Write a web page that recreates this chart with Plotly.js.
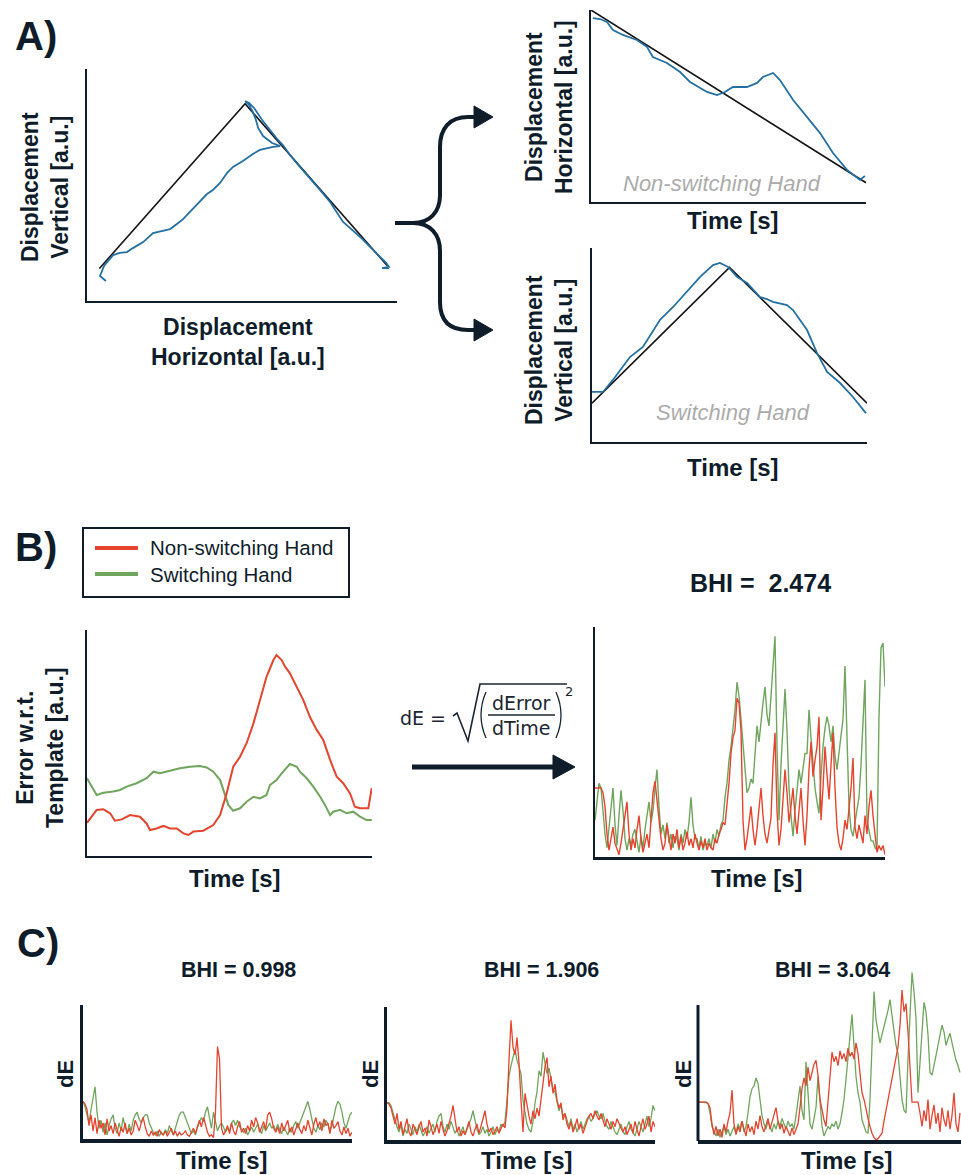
<!DOCTYPE html>
<html>
<head>
<meta charset="utf-8">
<script src="https://cdn.plot.ly/plotly-3.0.1.min.js"></script>
<style>html,body{margin:0;padding:0;background:#fff;}#chart{width:961px;height:1175px;}</style>
</head>
<body>
<div id="chart"></div>
<script>
// ---------- DATA ----------
// Panel A, main: 2D trajectory (horizontal vs vertical displacement)
const aTplX = [4, 51, 97];
const aTplY = [14, 85, 15];
const aTrajX = [6.1,4.2,5.5,7.4,8.4,10.6,12.9,14.8,18.1,21.3,24.5,26.8,29.0,31.0,33.2,36.5,38.7,40.6,42.9,45.2,47.1,50.3,53.5,55.8,58.1,60.0,62.3,59.7,56.8,55.2,54.5,53.5,52.3,51.0,52.3,53.9,56.5,59.0,61.6,63.2,65.5,68.7,71.9,75.2,78.4,80.6,82.6,84.8,88.1,91.3,94.5,96.5,97.4,95.2,97.4];
const aTrajY = [8.6,10.8,15.1,18.5,19.8,20.7,21.1,22.8,25.4,29.3,30.2,31.0,33.2,35.3,38.4,43.1,46.1,47.8,50.9,55.2,57.8,60.3,63.4,65.1,65.9,66.4,66.8,68.1,71.1,74.6,78.0,81.5,84.5,86.2,85.3,83.2,78.0,73.7,69.4,67.2,62.9,57.8,53.0,47.8,42.7,38.4,34.1,31.5,27.6,23.3,19.0,16.4,14.7,14.2,14.2];
// Panel A, non-switching hand: horizontal displacement vs time
const nsTplT = [0, 100];
const nsTplY = [100, 10];
const nsT = [0.7,3.3,5.8,8.0,11.6,16.7,20.4,22.5,27.6,32.4,36.0,42.2,45.8,48.7,51.6,56.7,60.4,62.5,66.2,68.7,73.5,78.5,83.3,88.0,93.1,97.8,99.6];
const nsY = [95.8,95.3,93.8,89.6,87.0,84.4,80.7,75.5,72.4,67.7,62.5,57.3,55.7,57.3,59.9,59.9,62.0,65.1,67.2,63.5,53.1,44.3,35.9,25.5,16.7,11.5,13.5];
// Panel A, switching hand: vertical displacement vs time
const swTplT = [0, 50, 100];
const swTplY = [20, 90, 20];
const swT = [0,4.0,7.6,13.8,18.5,24.7,29.5,34.5,39.3,44.0,46.5,49.5,52.7,56.4,61.1,63.6,65.8,70.9,73.1,78.2,81.8,85.5,90.2,94.9,99.6];
const swY = [25.8,25.8,32.0,43.8,49.0,62.9,69.6,77.3,85.1,91.2,92.3,90.2,85.1,82.0,74.7,73.7,72.2,70.6,68.0,57.7,45.9,36.1,30.4,23.2,14.9];
// Panel B, error w.r.t. template
const errRedT = [0,3.4,5.7,8.1,9.8,12.2,15.1,18.6,20.9,22.1,24.4,26.8,29.1,31.5,33.8,35.6,37.3,40.8,44.3,46.7,49.0,51.3,53.7,56.0,58.4,60.7,63.0,65.4,66.5,68.3,69.5,71.2,73.6,75.9,78.2,80.6,82.9,85.3,87.6,89.9,92.3,94.0,95.8,98.7,99.9];
const errRedY = [14.7,20.4,20.7,18.9,15.6,16.2,18.1,17.4,14.4,11.5,12.2,13.3,12.2,12.2,10.0,9.3,10.8,11.2,13.7,18.1,27.7,39.5,43.9,49.9,58.7,69.0,79.3,86.7,88.9,86.7,83.8,80.8,74.9,69.0,61.6,55.8,51.3,42.5,35.1,32.2,27.7,21.8,21.1,21.1,30.0];
const errGreenT = [0,3.4,5.7,9.2,11.6,13.9,17.4,20.9,23.3,25.6,29.1,32.6,36.1,39.6,42.0,44.3,46.7,48.4,49.6,51.3,53.7,56.0,58.4,60.7,63.0,64.2,66.5,68.3,71.2,73.6,74.7,77.1,79.4,81.8,83.5,85.3,86.4,88.8,91.1,93.4,95.8,98.1,99.9];
const errGreenY = [34.4,27.0,28.0,28.5,29.2,30.7,32.2,34.4,37.3,36.6,37.7,38.8,39.5,39.8,39.2,37.3,33.6,27.7,22.6,20.0,21.1,24.0,26.2,25.5,27.0,31.4,33.6,36.6,40.7,39.5,37.3,34.4,30.7,26.2,22.6,18.1,19.6,20.4,18.9,19.6,17.4,15.9,15.9];
// Panel B, dE (BHI = 2.474)
const dERed = [30,30,30,30,28,22,10,3,8,13,6,3,1,6,12,18,24,10,3,8,4,12,18,8,2,6,10,4,18,28,33,24,16,8,3,6,14,8,3,10,6,12,4,9,3,6,11,5,8,4,10,6,3,7,4,8,3,6,4,3,8,6,10,12,15,14,22,32,45,52,55,69,67,55,16,3,8,15,22,12,5,12,20,30,18,10,6,12,17,40,54,20,5,12,26,38,28,15,22,30,18,10,20,30,16,5,18,38,50,35,42,48,61,16,30,48,36,25,40,54,30,13,6,3,8,16,12,20,30,43,13,8,14,10,6,18,10,22,29,18,10,2,5,3,5,1];
const dEGreen = [16,24,32,30,20,10,4,12,22,30,14,5,18,29,20,8,3,8,5,10,12,6,2,9,4,12,18,24,15,20,30,38,22,10,14,8,15,6,10,4,9,8,3,10,6,12,8,15,26,14,8,8,4,9,3,6,5,8,4,10,6,12,9,14,16,26,32,42,48,55,64,76,70,60,48,36,28,30,34,32,45,57,50,60,67,74,62,57,70,85,96,48,16,40,60,73,55,30,18,9,20,30,38,32,40,45,45,64,52,42,30,24,19,35,48,56,61,57,50,57,44,38,46,55,60,83,50,22,12,9,15,20,26,40,60,77,16,12,7,7,4,3,61,91,93,74];
// Panel C, dE examples
const bhiLabels = ["BHI = 0.998", "BHI = 1.906", "BHI = 3.064"];
const c1Red = [28,26,22,10,18,6,16,4,14,8,12,3,15,6,10,4,12,7,2,9,5,12,4,8,3,6,14,10,6,12,16,9,4,2,6,3,5,2,7,4,3,6,2,5,8,3,6,2,5,3,4,6,3,2,5,8,4,10,14,9,16,11,5,2,3,1,20,69,60,8,3,6,10,4,12,6,3,9,13,5,8,4,10,6,14,9,16,12,5,9,13,7,18,20,15,8,5,9,4,12,6,10,14,5,9,3,8,12,7,4,10,6,14,8,3,11,16,9,13,6,15,10,12,4,14,8,10,13,6,3,9,4,8,2,5];
const c1Green = [28,24,18,12,22,30,39,20,8,14,5,12,3,10,15,18,8,4,12,6,16,9,4,11,6,14,18,20,15,12,16,18,18,12,8,5,3,6,2,5,3,7,4,10,6,3,8,14,18,20,20,16,12,8,4,6,3,9,12,16,13,20,24,15,8,20,14,6,10,12,9,5,8,6,12,14,10,14,9,7,5,8,3,6,9,5,8,11,7,4,10,6,9,12,8,10,6,11,7,4,9,6,3,8,5,10,13,8,12,15,20,24,28,22,14,8,5,10,7,12,9,14,11,6,10,18,24,28,26,20,12,8,14,18,20];
const c2Red = [28,27,24,18,12,20,8,14,4,10,16,6,3,12,8,4,10,14,6,9,3,15,10,4,8,12,5,14,8,3,7,12,18,26,15,6,10,3,7,4,9,14,6,3,8,12,5,10,16,22,12,6,9,4,7,10,5,8,12,9,24,60,90,70,64,77,58,30,6,35,25,18,12,22,16,24,18,30,40,55,62,40,48,35,42,30,24,28,15,20,12,8,14,6,10,16,8,12,5,10,14,18,20,16,22,18,15,20,14,10,16,12,8,14,10,16,12,9,6,10,4,8,12,5,14,8,3,10,16,8,12,18,6,14,10];
const c2Green = [28,28,26,20,14,10,6,12,3,8,5,12,8,4,10,6,12,8,3,6,10,5,8,12,6,14,18,20,10,6,12,8,14,10,5,8,3,6,10,4,8,12,16,22,14,8,4,6,10,5,8,3,6,10,4,8,6,12,10,14,30,48,56,62,68,60,55,50,30,20,12,8,6,14,28,36,52,48,66,58,50,54,45,38,36,30,22,26,18,20,14,10,16,8,12,6,10,14,8,12,16,18,14,16,20,22,18,16,20,14,10,8,14,10,6,4,8,12,6,4,10,14,8,5,3,8,14,10,6,12,18,10,16,26,22];
const c3Red = [28,28,28,28,28,27,24,12,4,10,3,8,2,12,6,14,20,37,12,4,10,6,14,8,3,12,6,10,4,14,8,18,10,6,12,16,8,14,20,24,14,8,12,5,10,6,3,9,4,8,12,24,38,46,40,54,44,50,56,59,48,30,22,15,10,28,48,65,58,62,55,66,60,64,58,68,62,65,60,72,64,48,35,30,22,16,10,5,2,0,1,3,5,14,22,30,39,44,52,62,69,85,111,95,101,80,50,28,28,28,28,20,10,22,14,30,8,18,26,12,20,6,24,15,10,22,8,18,35,12,6,20];
const c3Green = [28,28,28,28,28,27,20,10,6,3,8,2,6,10,4,8,3,6,10,5,12,8,14,6,10,20,32,38,40,46,42,30,18,12,8,14,10,6,12,8,14,10,16,12,8,14,10,12,8,18,30,40,22,15,58,30,12,8,16,24,47,30,10,3,6,10,8,12,10,14,8,12,20,30,45,60,80,93,70,47,35,28,15,10,6,5,30,70,110,89,80,72,78,85,90,96,104,92,80,70,64,45,30,22,20,60,90,124,110,90,35,55,80,102,95,78,50,48,55,62,70,78,85,80,70,75,79,72,65,59,55,50];
const seriesNames = ["Non-switching Hand", "Switching Hand"];

// ---------- STYLE / GEOMETRY ----------
const W = 961, H = 1175;
const NAVY = '#0f1d2b';
const BLUE = '#2470a4';
const RED = '#e5442f';
const GREEN = '#6fa55d';
const TPL = '#151515';
const FONT = 'Liberation Sans, Arial, sans-serif';
const fx = x => x / W;
const fy = y => 1 - y / H;

function xax(l, r, range, lw, anchor) {
  return {domain: [fx(l), fx(r)], range: range, showline: true, linecolor: NAVY, linewidth: lw, anchor: anchor,
          showgrid: false, zeroline: false, showticklabels: false, ticks: '', fixedrange: true};
}
function yax(t, b, range, lw, anchor, showline) {
  return {domain: [fy(b), fy(t)], range: range, showline: showline !== false, linecolor: NAVY, linewidth: lw,
          showgrid: false, zeroline: false, showticklabels: false, ticks: '', fixedrange: true, anchor: anchor};
}

const traces = [];
function line(x, y, xa, ya, color, width) {
  const t = {type: 'scatter', mode: 'lines', y: y, xaxis: xa, yaxis: ya,
             line: {color: color, width: width}, hoverinfo: 'skip', showlegend: false};
  if (x) t.x = x; else { t.x0 = 0; t.dx = 1; }
  traces.push(t);
}
// A main
line(aTplX, aTplY, 'x', 'y', TPL, 1.6);
line(aTrajX, aTrajY, 'x', 'y', BLUE, 1.8);
// A non-switching
line(nsTplT, nsTplY, 'x2', 'y2', TPL, 1.6);
line(nsT, nsY, 'x2', 'y2', BLUE, 1.8);
// A switching
line(swTplT, swTplY, 'x3', 'y3', TPL, 1.6);
line(swT, swY, 'x3', 'y3', BLUE, 1.8);
// B error
line(errGreenT, errGreenY, 'x4', 'y4', GREEN, 2);
line(errRedT, errRedY, 'x4', 'y4', RED, 2);
// B dE
line(null, dEGreen, 'x5', 'y5', GREEN, 1.4);
line(null, dERed, 'x5', 'y5', RED, 1.4);
// C
line(null, c1Green, 'x6', 'y6', GREEN, 1.3);
line(null, c1Red, 'x6', 'y6', RED, 1.3);
line(null, c2Green, 'x7', 'y7', GREEN, 1.3);
line(null, c2Red, 'x7', 'y7', RED, 1.3);
line(null, c3Green, 'x8', 'y8', GREEN, 1.3);
line(null, c3Red, 'x8', 'y8', RED, 1.3);

// ---------- TEXT ----------
const ann = [];
function txt(text, x, y, size, opts) {
  opts = opts || {};
  ann.push(Object.assign({text: text, x: fx(x), y: fy(y), xref: 'paper', yref: 'paper',
    xanchor: 'center', yanchor: 'middle', showarrow: false,
    font: {family: opts.family || FONT, size: size, color: opts.color || NAVY}}, opts.extra || {}));
}
const bold = s => '<b>' + s + '</b>';
txt(bold('A)'), 36, 36, 40);
txt(bold('B)'), 36, 547, 40);
txt(bold('C)'), 38, 943, 40);
// A
txt(bold('Displacement<br>Vertical [a.u.]'), 45, 187, 23, {extra: {textangle: -90}});
txt(bold('Displacement<br>Horizontal [a.u.]'), 238, 342, 23);
txt(bold('Displacement<br>Horizontal [a.u.]'), 549, 107, 23, {extra: {textangle: -90}});
txt(bold('Time [s]'), 733, 220, 24);
txt('<i>Non-switching Hand</i>', 722, 183, 22, {color: '#ababab'});
txt(bold('Displacement<br>Vertical [a.u.]'), 549, 350, 23, {extra: {textangle: -90}});
txt(bold('Time [s]'), 733, 467, 24);
txt('<i>Switching Hand</i>', 733, 413, 22, {color: '#ababab'});
// B
txt(seriesNames[0], 148, 548, 20.5, {extra: {xanchor: 'left'}});
txt(seriesNames[1], 148, 574, 20.5, {extra: {xanchor: 'left'}});
txt(bold('Error w.r.t.<br>Template [a.u.]'), 40, 748, 23, {extra: {textangle: -90}});
txt(bold('Time [s]'), 235, 878, 24);
txt(bold('BHI =  2.474'), 760, 583, 25);
txt(bold('Time [s]'), 757, 878, 24);
const FF = 'DejaVu Sans, Verdana, sans-serif';
txt('dE =', 423, 718, 19, {family: FF, color: '#1b2631'});
txt('dError', 521, 703, 19, {family: FF, color: '#1b2631'});
txt('dTime', 521, 728, 19, {family: FF, color: '#1b2631'});
txt('2', 569, 691, 13, {family: FF, color: '#1b2631'});
// C
const cCenters = [[238, 222, 65], [541, 527, 370], [832, 847, 683]];
cCenters.forEach((c, i) => {
  txt(bold(bhiLabels[i]), c[0], 970, 21.5);
  txt(bold('Time [s]'), c[1], 1160, 24);
  txt(bold('dE'), c[2], 1074, 22, {extra: {textangle: -90}});
});

// ---------- SHAPES ----------
const P = (x, y) => fx(x).toFixed(5) + ',' + fy(y).toFixed(5);
const shapes = [];
function path(d, color, width, fill) {
  shapes.push({type: 'path', xref: 'paper', yref: 'paper', path: d,
    line: {color: color, width: width}, fillcolor: fill || 'rgba(0,0,0,0)'});
}
function seg(x0, y0, x1, y1, color, width) {
  shapes.push({type: 'line', xref: 'paper', yref: 'paper', x0: fx(x0), y0: fy(y0), x1: fx(x1), y1: fy(y1),
    line: {color: color, width: width}});
}
// brace with arrows
path('M' + P(395, 223) + ' L' + P(413, 223) + ' C' + P(430, 223) + ' ' + P(440, 212) + ' ' + P(440, 195) +
     ' L' + P(440, 147) + ' C' + P(440, 128) + ' ' + P(450, 117) + ' ' + P(468, 117) + ' L' + P(478, 117), NAVY, 4);
path('M' + P(413, 223) + ' C' + P(430, 223) + ' ' + P(440, 234) + ' ' + P(440, 251) +
     ' L' + P(440, 302) + ' C' + P(440, 321) + ' ' + P(450, 330) + ' ' + P(468, 330) + ' L' + P(478, 330), NAVY, 4);
path('M' + P(474, 106) + ' L' + P(493, 117) + ' L' + P(474, 128) + ' Z', NAVY, 1, NAVY);
path('M' + P(474, 319) + ' L' + P(493, 330) + ' L' + P(474, 341) + ' Z', NAVY, 1, NAVY);
// legend box
shapes.push({type: 'rect', xref: 'paper', yref: 'paper', x0: fx(83), x1: fx(349), y0: fy(597), y1: fy(528),
  line: {color: NAVY, width: 2}, fillcolor: 'rgba(0,0,0,0)'});
seg(95, 548, 138, 548, RED, 4);
seg(95, 574, 138, 574, GREEN, 4);
// formula
const FC = '#1b2631';
path('M' + P(453, 716) + ' L' + P(457, 713) + ' L' + P(468, 741) + ' L' + P(480, 684) + ' L' + P(567, 684), FC, 1.6);
path('M' + P(486, 692) + ' Q' + P(476, 715) + ' ' + P(486, 738), FC, 1.3);
path('M' + P(556, 692) + ' Q' + P(566, 715) + ' ' + P(556, 738), FC, 1.3);
seg(488, 715, 555, 715, FC, 1.3);
// B arrow
seg(412, 767, 556, 767, NAVY, 5);
path('M' + P(553, 755) + ' L' + P(575, 767) + ' L' + P(553, 779) + ' Z', NAVY, 1, NAVY);
// C3 y-axis line (data rises above it)
seg(698, 1005, 698, 1141, NAVY, 3);

const layout = {
  width: W, height: H, margin: {l: 0, r: 0, t: 0, b: 0},
  paper_bgcolor: '#ffffff', plot_bgcolor: 'rgba(0,0,0,0)', showlegend: false,
  xaxis: xax(87, 397, [0, 100], 2, 'y'),   yaxis: yax(69, 301, [0, 100], 2, 'x'),
  xaxis2: xax(591, 866, [0, 100], 2, 'y2'), yaxis2: yax(10, 202, [0, 100], 2, 'x2'),
  xaxis3: xax(592, 867, [0, 100], 2, 'y3'), yaxis3: yax(248, 442, [0, 100], 2, 'x3'),
  xaxis4: xax(87, 372, [0, 100], 2, 'y4'),  yaxis4: yax(630, 856, [0, 100], 2, 'x4'),
  xaxis5: xax(595, 885, [0, 145], 2.5, 'y5'), yaxis5: yax(627, 857, [0, 100], 2.5, 'x5'),
  xaxis6: xax(83, 352, [0, 134], 3.5, 'y6'), yaxis6: yax(1005, 1139, [0, 100], 3, 'x6'),
  xaxis7: xax(387, 655, [0, 134], 3.5, 'y7'), yaxis7: yax(1007, 1140, [0, 100], 3, 'x7'),
  xaxis8: xax(698, 961, [0, 131.5], 3.5, 'y8'), yaxis8: yax(965, 1140, [0, 129.6], 3, 'x8', false),
  annotations: ann, shapes: shapes
};
Plotly.newPlot('chart', traces, layout, {staticPlot: true, displayModeBar: false});
</script>
</body>
</html>
